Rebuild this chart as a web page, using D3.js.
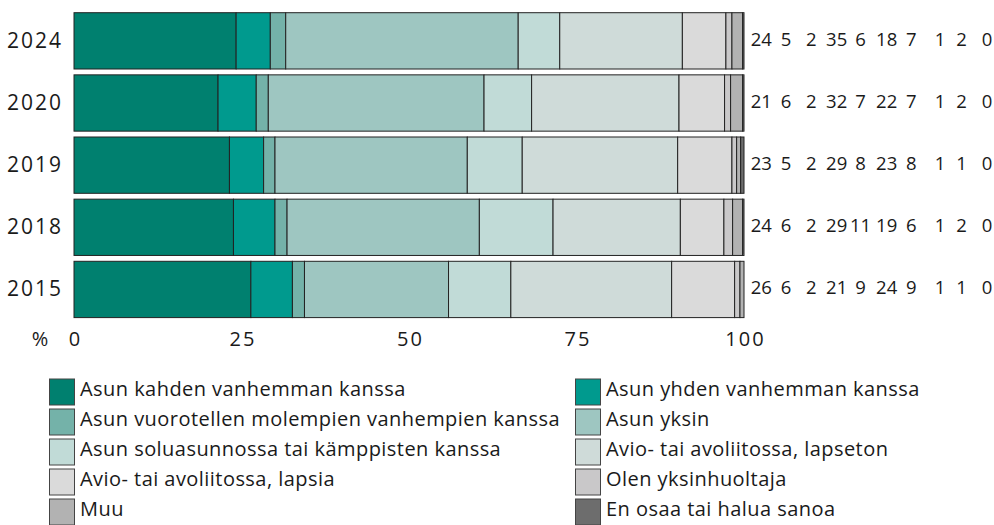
<!DOCTYPE html>
<html><head><meta charset="utf-8">
<script src="https://cdn.jsdelivr.net/npm/d3@7"></script>
<style>
html,body{margin:0;padding:0;background:#fff;}
text{font-family:"Open Sans","Noto Sans",sans-serif;fill:#1a1a1a;}
</style></head>
<body>
<svg id="chart" width="994" height="525"></svg>
<script>
const years = ["2024","2020","2019","2018","2015"];
const seriesNames = [
  "Asun kahden vanhemman kanssa",
  "Asun yhden vanhemman kanssa",
  "Asun vuorotellen molempien vanhempien kanssa",
  "Asun yksin",
  "Asun soluasunnossa tai kämppisten kanssa",
  "Avio- tai avoliitossa, lapseton",
  "Avio- tai avoliitossa, lapsia",
  "Olen yksinhuoltaja",
  "Muu",
  "En osaa tai halua sanoa"
];
// bar shares (%) per year, in series order
const v2024 = [24.2, 5.1, 2.3, 34.7, 6.2, 18.3, 6.5, 0.9, 1.6, 0.2];
const v2020 = [21.5, 5.7, 1.8, 32.2, 7.1, 22.0, 6.8, 0.9, 1.8, 0.2];
const v2019 = [23.2, 5.1, 1.7, 28.7, 8.2, 23.2, 8.1, 0.7, 0.6, 0.5];
const v2018 = [23.8, 6.2, 1.8, 28.7, 11.0, 19.0, 6.5, 1.3, 1.5, 0.2];
const v2015 = [26.4, 6.2, 1.8, 21.5, 9.3, 24.0, 9.4, 0.8, 0.6, 0.0];
// printed labels per year
const l2024 = [24, 5, 2, 35, 6, 18, 7, 1, 2, 0];
const l2020 = [21, 6, 2, 32, 7, 22, 7, 1, 2, 0];
const l2019 = [23, 5, 2, 29, 8, 23, 8, 1, 1, 0];
const l2018 = [24, 6, 2, 29, 11, 19, 6, 1, 2, 0];
const l2015 = [26, 6, 2, 21, 9, 24, 9, 1, 1, 0];
const xTicks = [0, 25, 50, 75, 100];

const colors = ["#00806f","#009a8e","#74b2a9","#9ec6c1","#c1dbd7","#cfdbd9","#dadada","#c9c8c9","#b2b2b2","#6d6d6d"];

const valuesByYear = {"2024": v2024, "2020": v2020, "2019": v2019, "2018": v2018, "2015": v2015};
const labelsByYear = {"2024": l2024, "2020": l2020, "2019": l2019, "2018": l2018, "2015": l2015};

const svg = d3.select("#chart");
const x = d3.scaleLinear().domain([0, 100]).range([74, 744]);
const y = d3.scaleBand().domain(years).range([12.7, 317.6]).paddingInner(0.094).paddingOuter(0);

const rows = years.map(yr => {
  const vals = valuesByYear[yr];
  let acc = 0;
  return {year: yr, segs: vals.map((v, i) => { const s = {i, x0: acc, x1: acc + v}; acc += v; return s; })};
});

const g = svg.append("g");
rows.forEach(r => {
  g.selectAll(null).data(r.segs).enter().append("rect")
    .attr("x", d => x(d.x0))
    .attr("y", y(r.year))
    .attr("width", d => Math.max(0, x(d.x1) - x(d.x0)))
    .attr("height", y.bandwidth())
    .attr("fill", d => colors[d.i])
    .attr("stroke", "#222")
    .attr("stroke-width", 1);
});

// year labels
svg.append("g").selectAll("text").data(years).enter().append("text")
  .attr("x", 63).attr("y", d => y(d) + y.bandwidth()/2 + 7)
  .attr("text-anchor", "end")
  .style("font-size", "21px").style("letter-spacing", "2px").text(d => d);

// x axis
const xAxis = d3.axisBottom(x).tickValues(xTicks).tickSize(0).tickPadding(0);
const ax = svg.append("g").call(xAxis);
ax.select(".domain").remove();
ax.selectAll("text").attr("y", 346).attr("dy", null)
  .style("font-size", "20px").style("letter-spacing", "2px")
  .style("font-family", "'Open Sans','Noto Sans',sans-serif").attr("fill", "#1a1a1a")
  .attr("dx", "1px");
svg.append("text").attr("x", 40).attr("y", 346).attr("text-anchor", "middle")
  .style("font-size", "20px").text("%");

// value labels
const labelCols = [761.3, 786, 811.2, 836.7, 860.5, 886.7, 911.4, 940, 961.5, 987];
years.forEach(yr => {
  svg.append("g").selectAll("text").data(labelsByYear[yr]).enter().append("text")
    .attr("x", (d, i) => labelCols[i])
    .attr("y", y(yr) + y.bandwidth()/2 + 4.8)
    .attr("text-anchor", "middle")
    .style("font-size", "18.5px").text(d => d);
});

// legend
const leg = svg.append("g");
seriesNames.forEach((name, i) => {
  const col = i % 2, row = Math.floor(i / 2);
  const lx = col === 0 ? 49.5 : 575.5;
  const cy = 392 + row * 30;
  leg.append("rect").attr("x", lx).attr("y", cy - 13).attr("width", 25).attr("height", 26)
    .attr("fill", colors[i]).attr("stroke", "#444").attr("stroke-width", 1);
  leg.append("text").attr("x", lx + 30.5).attr("y", cy + 4)
    .style("font-size", "20px").style("letter-spacing", "0.45px").text(name);
});
</script>
</body></html>
